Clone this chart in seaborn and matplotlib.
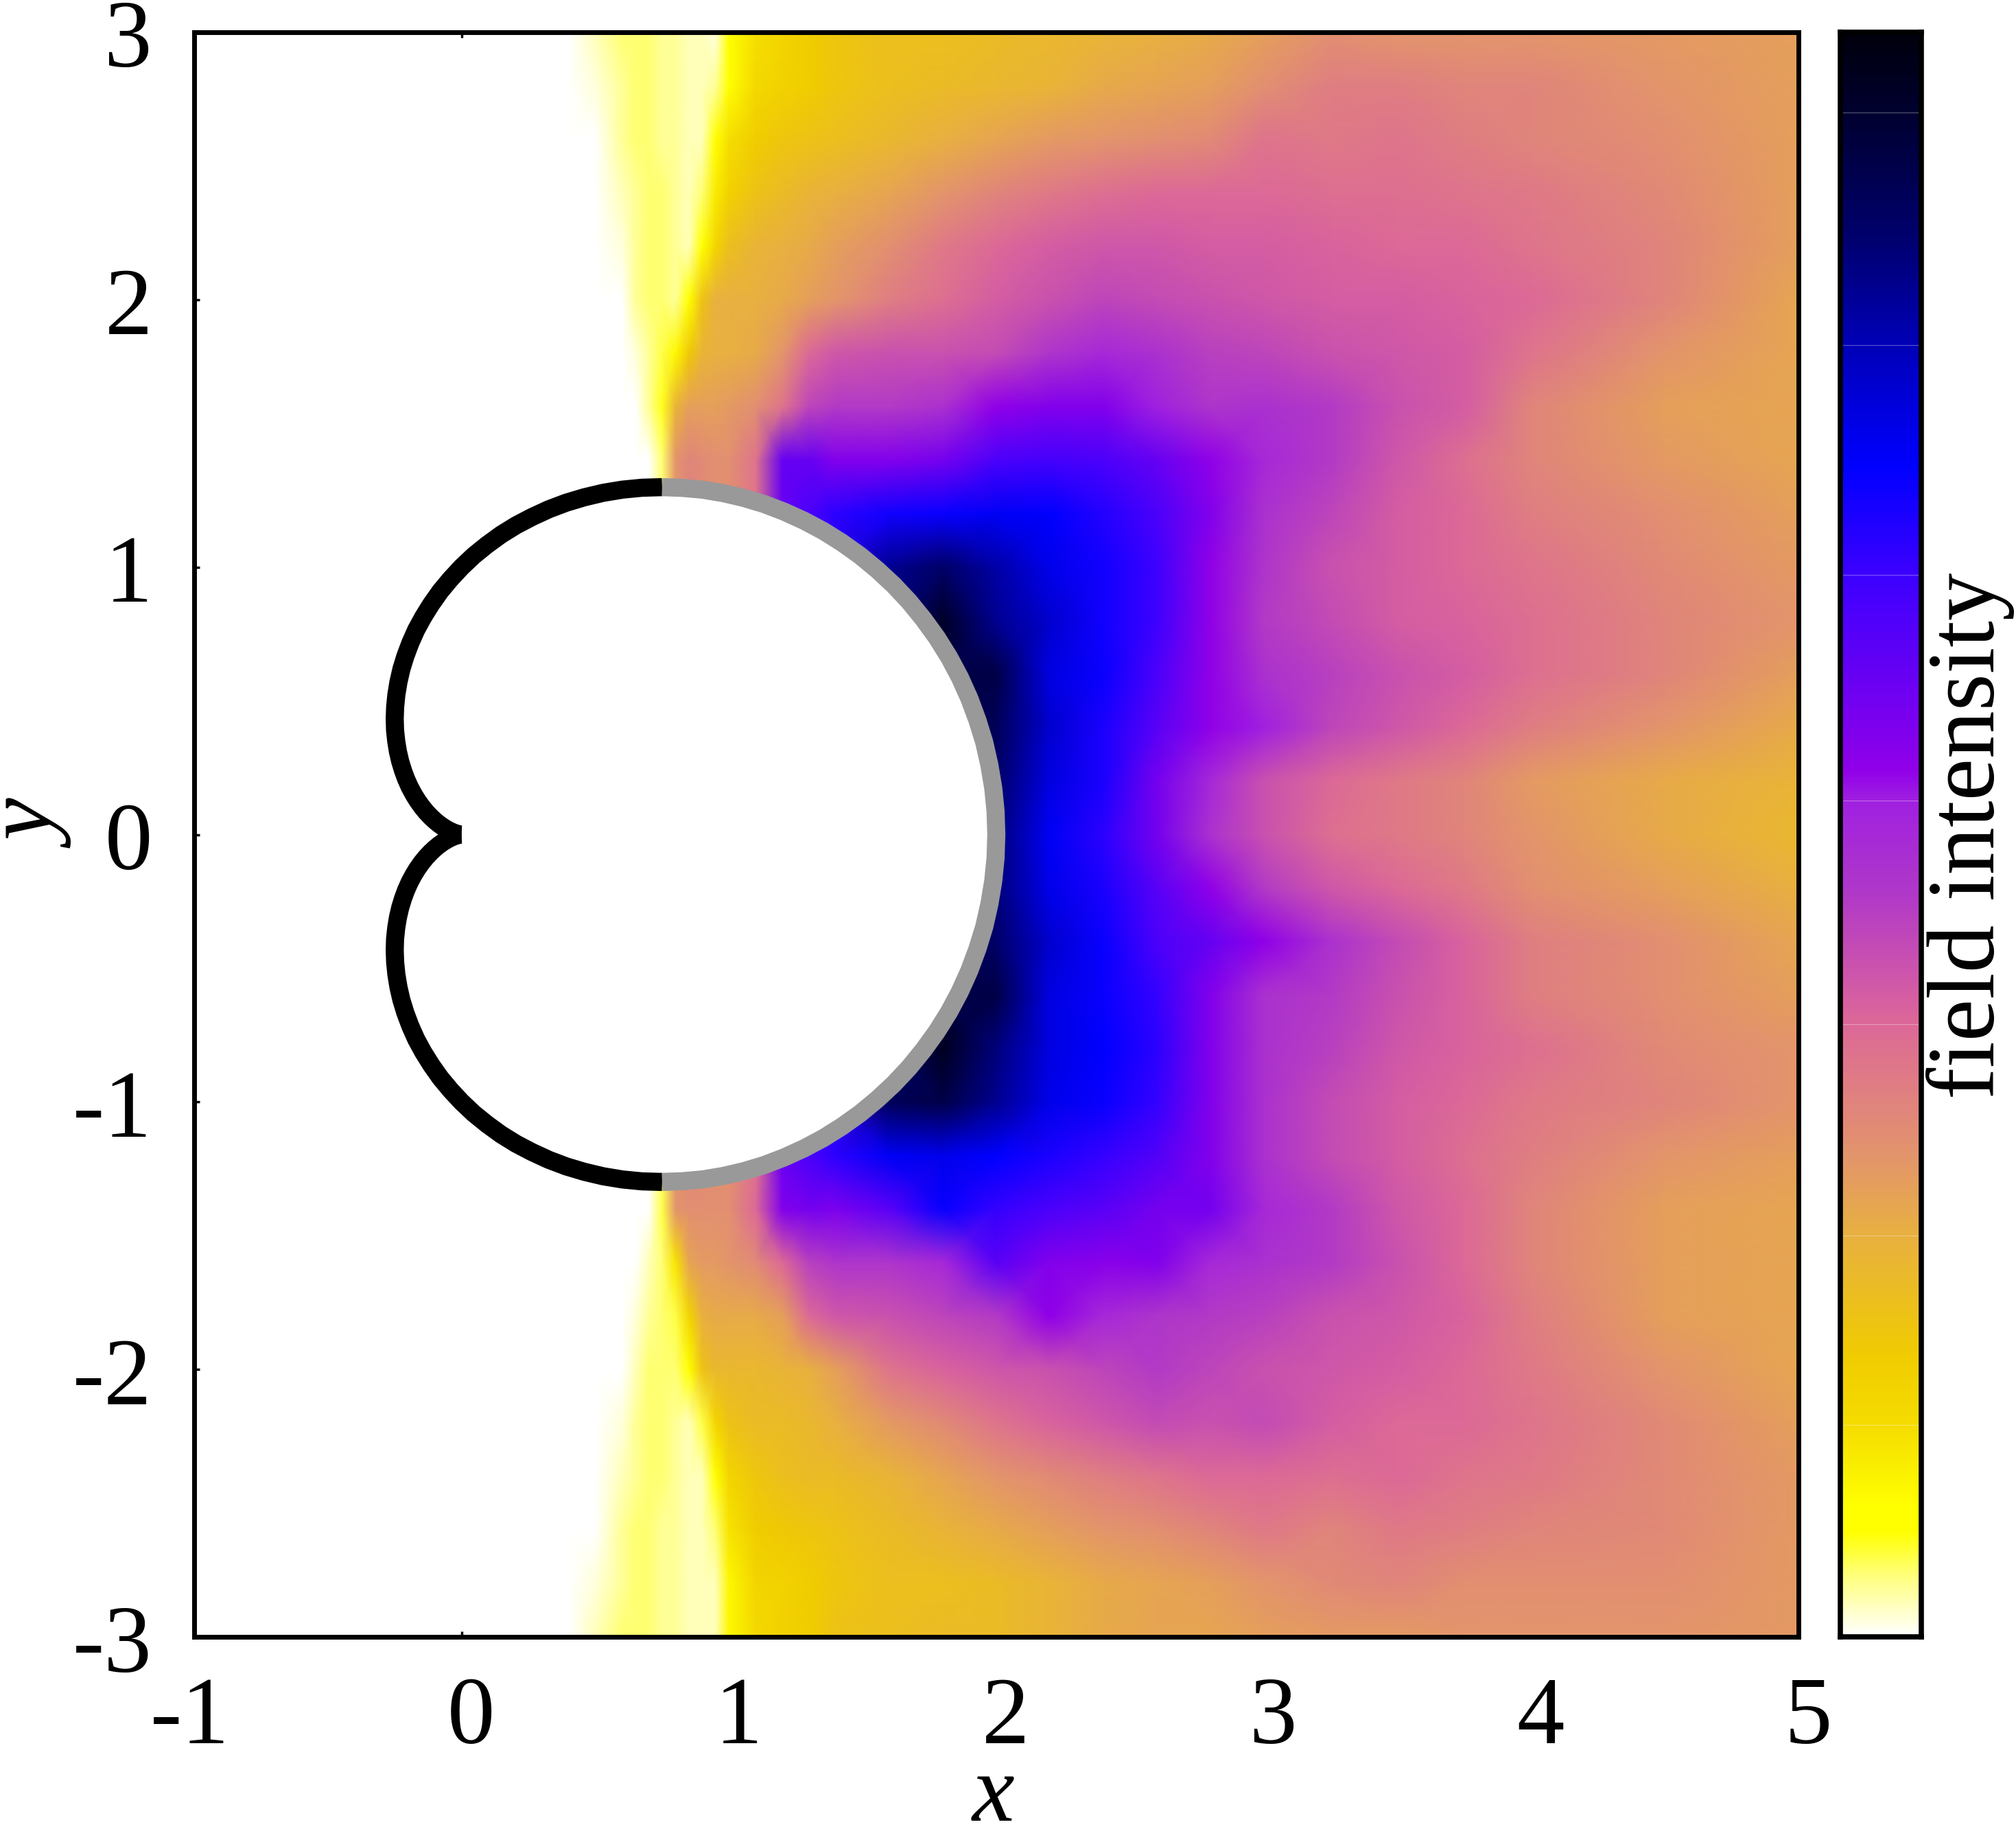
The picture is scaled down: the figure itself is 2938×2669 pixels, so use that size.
import numpy as np
import matplotlib
matplotlib.use("Agg")
import matplotlib.pyplot as plt
import matplotlib.transforms as mtrans
from matplotlib.colors import LinearSegmentedColormap
import seaborn as sns

# grid nodes of the intensity table
x_nodes = [0.40, 0.50, 0.60, 0.65, 0.70, 0.75, 0.80, 0.85, 0.90, 0.95, 1.00, 1.10, 1.20, 1.30, 1.40,
           1.60, 1.80, 2.00, 2.20, 2.40, 2.60, 2.80, 3.00, 3.25, 3.50, 3.75, 4.00, 4.50, 5.00]
y_nodes = [3.0, 2.8, 2.6, 2.4, 2.2, 2.0, 1.8, 1.6, 1.4, 1.2, 1.0, 0.8, 0.6, 0.4, 0.2, 0.0,
           -0.2, -0.4, -0.6, -0.8, -1.0, -1.2, -1.4, -1.6, -1.8, -2.0, -2.2, -2.4, -2.6, -2.8, -3.0]

# intensity, in percent of the colour bar, one row per y node
field = [
    [0,2,4,4,4,3,3,2,2,1,8,13,15,17,19,21,21,22,23,24,25,26,28,31,30,30,30,29,28],
    [0,1,3,4,4,3,3,2,2,3,8,14,16,17,19,21,22,23,24,26,27,28,31,34,34,33,33,30,28],
    [0,0,3,4,4,3,3,2,2,7,13,17,19,20,21,23,25,27,29,30,31,32,36,35,36,34,33,31,28],
    [0,0,2,3,4,4,3,2,4,11,16,20,22,24,25,27,30,33,35,37,38,38,38,37,37,36,35,32,28],
    [0,0,1,3,4,4,3,2,7,15,21,24,25,26,28,31,35,38,40,41,41,40,40,39,38,38,36,33,28],
    [0,0,0,3,4,4,3,8,20,25,25,25,26,28,30,34,37,40,42,44,43,42,41,40,40,39,38,33,27],
    [0,0,0,1,3,5,9,18,24,25,25,26,30,38,41,42,42,43,47,50,48,45,44,42,41,40,36,30,27],
    [0,0,0,0,3,6,24,28,28,28,29,31,36,44,46,46,48,54,56,56,52,47,48,46,42,40,33,28,27],
    [0,0,0,0,0,4,30,33,32,31,31,36,60,60,56,56,58,64,65,64,60,54,50,46,41,37,33,29,27],
    [0,0,0,0,0,4,30,33,32,31,31,36,60,64,68,71,72,74,73,69,64,56,48,44,40,38,34,31,28],
    [0,0,0,0,0,4,30,33,32,31,31,36,60,64,68,84,88,82,75,71,66,54,47,42,40,38,36,32,29],
    [0,0,0,0,0,4,30,33,32,31,31,36,60,64,68,84,96,84,78,71,66,54,46,43,40,39,37,33,30],
    [0,0,0,0,0,4,30,33,32,31,31,36,60,64,68,84,92,92,76,72,64,54,48,45,42,40,37,33,28],
    [0,0,0,0,0,4,30,33,32,31,31,36,60,64,68,84,92,90,78,70,62,54,52,44,41,38,34,30,26],
    [0,0,0,0,0,4,30,33,32,31,31,36,60,64,68,84,92,88,76,70,58,50,42,38,35,33,29,26,24],
    [0,0,0,0,0,4,30,33,32,31,31,36,60,64,68,84,92,86,74,68,58,48,42,37,35,33,30,26,23],
    [0,0,0,0,0,4,30,33,32,31,31,36,60,64,68,84,92,86,75,70,62,54,46,41,38,35,31,28,25],
    [0,0,0,0,0,4,30,33,32,31,31,36,60,64,68,84,92,88,78,72,64,60,54,48,43,39,34,31,27],
    [0,0,0,0,0,4,30,33,32,31,31,36,60,64,68,84,92,92,76,72,67,56,48,46,42,39,34,31,28],
    [0,0,0,0,0,4,30,33,32,31,31,36,60,64,68,84,97,86,76,73,68,56,48,45,41,39,37,32,30],
    [0,0,0,0,0,4,30,33,32,31,31,36,60,64,68,90,92,84,75,72,67,56,48,43,40,38,35,33,30],
    [0,0,0,0,0,4,30,33,32,31,31,36,60,64,68,74,75,73,70,67,63,56,48,43,40,37,34,30,28],
    [0,0,0,0,0,5,30,31,31,31,31,38,56,58,57,62,72,67,64,62,58,58,50,46,41,38,33,28,27],
    [0,0,0,0,2,4,12,27,29,29,30,32,38,45,47,47,50,62,56,55,56,50,48,46,42,38,33,28,27],
    [0,0,0,1,3,4,5,15,25,26,26,26,28,38,41,42,44,46,54,50,47,46,45,42,41,39,34,28,27],
    [0,0,0,2,4,4,4,7,20,23,23,23,24,25,28,36,39,41,42,44,46,44,42,41,40,38,35,30,27],
    [0,0,1,3,4,4,3,2,5,15,20,22,22,23,25,29,32,36,39,41,43,42,43,40,38,38,36,32,28],
    [0,0,2,3,4,4,3,2,2,7,15,19,21,22,22,24,27,30,32,34,36,38,38,37,38,36,35,32,29],
    [0,0,3,4,4,3,3,2,2,4,12,17,18,19,20,22,24,26,28,30,31,33,35,33,35,34,33,32,29],
    [0,1,3,4,4,3,3,2,2,2,9,15,16,17,19,21,21,22,24,26,27,28,30,32,33,31,31,31,29],
    [0,2,4,4,4,3,3,2,2,2,9,14,16,17,20,21,22,22,24,26,27,27,28,29,29,30,30,30,29],
]

# outline of the scatterer: polar angle and radius
outline_deg = [0, 2.5, 5, 7.5, 10, 12.5, 15, 17.5, 20, 22.5, 25, 27.5, 30, 32.5, 35, 37.5, 40, 42.5,
               45, 47.5, 50, 52.5, 55, 57.5, 60, 62.5, 65, 67.5, 70, 72.5, 75, 77.5, 80, 82.5, 85, 87.5,
               90, 92.5, 95, 97.5, 100, 102.5, 105, 107.5, 110, 112.5, 115, 117.5, 120, 122.5, 125,
               127.5, 130, 132.5, 135, 137.5, 140, 142.5, 145, 147.5, 150, 152.5, 155, 157.5, 160,
               162.5, 165, 167.5, 170, 172.5, 175, 177.5, 180]
outline_r = [2.000, 1.999, 1.996, 1.991, 1.985, 1.976, 1.966, 1.954, 1.940, 1.924, 1.906, 1.887,
             1.866, 1.843, 1.819, 1.793, 1.766, 1.737, 1.707, 1.676, 1.643, 1.609, 1.574, 1.537,
             1.500, 1.462, 1.423, 1.383, 1.342, 1.301, 1.259, 1.216, 1.174, 1.131, 1.087, 1.044,
             1.000, 0.956, 0.913, 0.869, 0.826, 0.784, 0.741, 0.699, 0.658, 0.617, 0.577, 0.538,
             0.500, 0.463, 0.426, 0.391, 0.357, 0.324, 0.293, 0.263, 0.234, 0.207, 0.181, 0.157,
             0.134, 0.113, 0.094, 0.076, 0.060, 0.046, 0.034, 0.024, 0.015, 0.009, 0.004, 0.001, 0.0]

x_ticks = [-1, 0, 1, 2, 3, 4, 5]
y_ticks = [-3, -2, -1, 0, 1, 2, 3]

# palette stops, position on the bar and colour
bar_stops = [0.0, 0.036, 0.065, 0.08, 0.132, 0.173, 0.25, 0.297, 0.382, 0.408, 0.463, 0.521, 0.54,
             0.662, 0.73, 0.805, 0.87, 0.95, 1.0]
bar_colors = ["#ffffff", "#ffff80", "#ffff00", "#ffff00", "#f5dc00", "#f0cc00", "#e8b040", "#e3966a",
              "#dc6898", "#d058a8", "#b038c8", "#a020e0", "#9000e8", "#3c00ff", "#0000ff", "#0000b8",
              "#000070", "#000030", "#00000c"]
bar_lines = [0.132, 0.25, 0.382, 0.521, 0.662, 0.805, 0.95]

sns.set_style("white")
plt.rcParams['font.family'] = ['Liberation Serif']
plt.rcParams['axes.unicode_minus'] = False
plt.rcParams['text.color'] = 'black'

W, H = 2938, 2669
palette = LinearSegmentedColormap.from_list("field", list(zip(bar_stops, bar_colors)), N=512)

fig = plt.figure(figsize=(W / 100, H / 100), dpi=100)
ax = fig.add_axes([283 / W, 1 - 2386 / H, 2338 / W, 2339 / H])
cax = fig.add_axes([2682 / W, 1 - 2386 / H, 118 / W, 2339 / H])

# field
ax.pcolormesh(x_nodes, y_nodes, np.array(field, dtype=float), cmap=palette, vmin=0, vmax=100,
              shading="gouraud", zorder=1)

# scatterer
angles = np.radians(outline_deg)
radii = np.array(outline_r)
px = radii * np.cos(angles)
py = radii * np.sin(angles)
ax.fill(np.r_[px, px[::-1]], np.r_[py, -py[::-1]], color="white", zorder=2)
lw = 19
n_gray = outline_deg.index(60) + 1
for sign in (1, -1):
    sns.lineplot(x=px[n_gray - 1:], y=sign * py[n_gray - 1:], sort=False, estimator=None, color="black",
                 linewidth=lw, ax=ax, zorder=3, solid_capstyle="butt", solid_joinstyle="round")
sns.lineplot(x=np.r_[px[:n_gray][::-1], px[1:n_gray]], y=np.r_[-py[:n_gray][::-1], py[1:n_gray]],
             sort=False, estimator=None, color="#999999", linewidth=lw, ax=ax, zorder=4,
             solid_capstyle="butt", solid_joinstyle="round")

ax.set_xlim(-1, 5)
ax.set_ylim(-3, 3)
ax.set_xticks(x_ticks)
ax.set_yticks(y_ticks)
ax.tick_params(direction="in", length=6, width=2.5, top=True, right=True, bottom=True, left=True,
               labelsize=100, color="black", labelcolor="black")
ax.tick_params(axis="x", pad=42)
ax.tick_params(axis="y", pad=44)
for side in ax.spines.values():
    side.set_linewidth(5)
    side.set_color("black")
    side.set_zorder(6)
ax.grid(False)
ax.set_xlabel("")
ax.set_ylabel("")

# gnuplot puts the tick labels slightly off the ticks
dpi_scale = fig.dpi_scale_trans
for lab, val in zip(ax.get_xticklabels(), x_ticks):
    shift = -6 if val < 0 else 14
    lab.set_transform(lab.get_transform() + mtrans.ScaledTranslation(shift / 100, 0, dpi_scale))
for lab in ax.get_yticklabels():
    lab.set_transform(lab.get_transform() + mtrans.ScaledTranslation(0, -2 / 100, dpi_scale))

# colour bar
bar_levels = np.linspace(100, 0, 512).reshape(-1, 1)
sns.heatmap(bar_levels, ax=cax, cmap=palette, vmin=0, vmax=100, cbar=False,
            xticklabels=False, yticklabels=False)
cax.hlines([(1 - f) * 512 for f in bar_lines], 0, 1, color="white", alpha=0.35, linewidth=0.8)
for side in cax.spines.values():
    side.set_visible(True)
    side.set_linewidth(5.5)
    side.set_color("black")

fig.text(1448 / W, 1 - 2620 / H, "x", style="italic", fontsize=100, ha="center", va="center")
fig.text(52 / W, 1 - 1205 / H, "y", style="italic", fontsize=100, rotation=90, ha="center", va="center")
fig.text(2872 / W, 1 - 1218 / H, "field intensity", fontsize=100, rotation=90, ha="center", va="center")

fig.savefig("out.png", dpi=100)
